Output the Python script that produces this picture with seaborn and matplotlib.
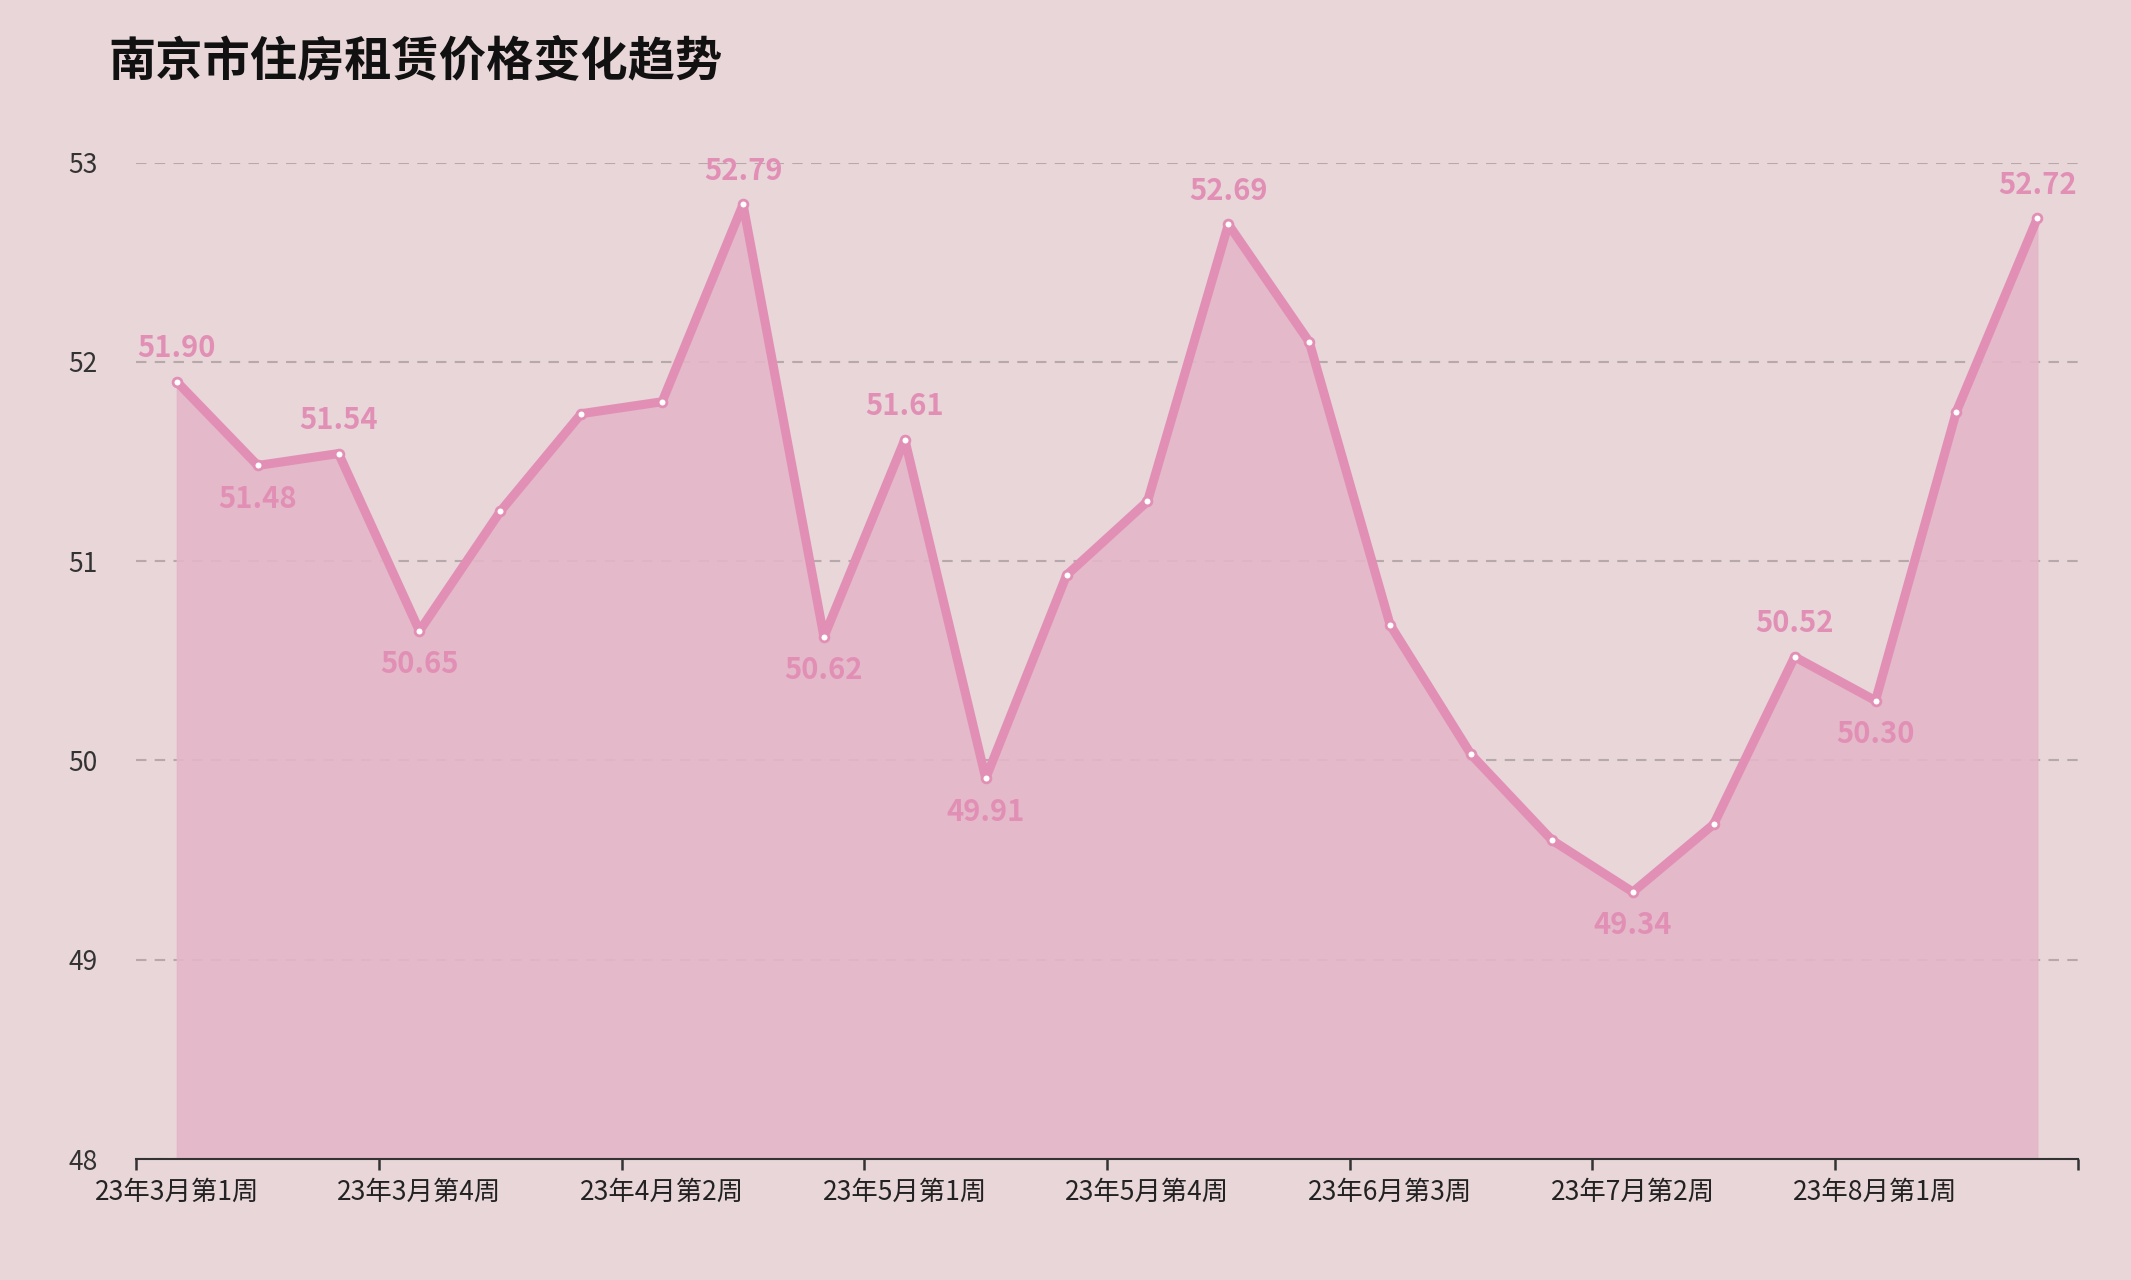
import matplotlib
matplotlib.use("Agg")
import matplotlib.pyplot as plt
import seaborn as sns
import pandas as pd

weeks = ["23年3月第1周","23年3月第2周","23年3月第3周","23年3月第4周","23年3月第5周",
         "23年4月第1周","23年4月第2周","23年4月第3周","23年4月第4周",
         "23年5月第1周","23年5月第2周","23年5月第3周","23年5月第4周",
         "23年6月第1周","23年6月第2周","23年6月第3周","23年6月第4周",
         "23年7月第1周","23年7月第2周","23年7月第3周","23年7月第4周",
         "23年8月第1周","23年8月第2周","23年8月第3周"]
prices = [51.90, 51.48, 51.54, 50.65, 51.25, 51.74, 51.80, 52.79, 50.62, 51.61, 49.91, 50.93,
          51.30, 52.69, 52.10, 50.68, 50.03, 49.60, 49.34, 49.68, 50.52, 50.30, 51.75, 52.72]
label_above = {0: True, 1: False, 2: True, 3: False, 7: True, 8: False, 9: True, 10: False,
               13: True, 18: False, 20: True, 21: False, 23: True}

sns.set_theme(style="white")
plt.rcParams['font.family'] = ['Noto Sans CJK SC', 'DejaVu Sans']
bg = "#e8d6d8"
line_c = "#e28fb6"

df = pd.DataFrame({"x": range(len(prices)), "y": prices})
fig = plt.figure(figsize=(21.31, 12.8), dpi=100, facecolor=bg)
ax = fig.add_axes([0.064, 0.0945, 0.911, 0.7785])
ax.set_facecolor(bg)
ax.fill_between(df["x"], df["y"], 48, color="#e4b6c8", alpha=0.9, zorder=1)
sns.lineplot(data=df, x="x", y="y", ax=ax, color=line_c, linewidth=6.5, zorder=3)
ax.scatter(df["x"], df["y"], s=40, facecolor="white", edgecolor=line_c, linewidth=2, zorder=4)
for i, above in label_above.items():
    ax.annotate(f"{prices[i]:.2f}", (i, prices[i]), xytext=(0, 24 if above else -24),
                textcoords="offset points", ha="center", va="center",
                color=line_c, fontsize=21, fontweight="bold", zorder=5)

ax.set_xlim(-0.5, 23.5)
ax.set_ylim(48, 53)
ax.set_yticks([48, 49, 50, 51, 52, 53])
ax.yaxis.grid(True, linestyle=(0, (5, 4)), color="#b8a8ab", linewidth=1.5)
for s in ["top", "right", "left"]:
    ax.spines[s].set_visible(False)
ax.spines["bottom"].set_color("#333333")
ax.spines["bottom"].set_linewidth(1.5)
ax.tick_params(axis="y", length=0, labelsize=19, colors="#333333", pad=28)
ax.set_xticks([i - 0.5 for i in range(0, 25, 3)], minor=False)
ax.set_xticklabels([])
ax.tick_params(axis="x", which="major", bottom=True, length=8, width=1.8, colors="#333333")
ax.set_xticks(list(range(0, 24, 3)), minor=True)
ax.set_xticklabels([weeks[i] for i in range(0, 24, 3)], minor=True)
ax.tick_params(axis="x", which="minor", bottom=False, length=0, labelsize=19,
               colors="#222222", pad=14)
ax.set_xlabel(""); ax.set_ylabel("")
fig.text(0.051, 0.952, "南京市住房租赁价格变化趋势", fontsize=34, fontweight="bold",
         color="#111111", va="center", ha="left")
fig.savefig("out.png", dpi=100, facecolor=bg)
